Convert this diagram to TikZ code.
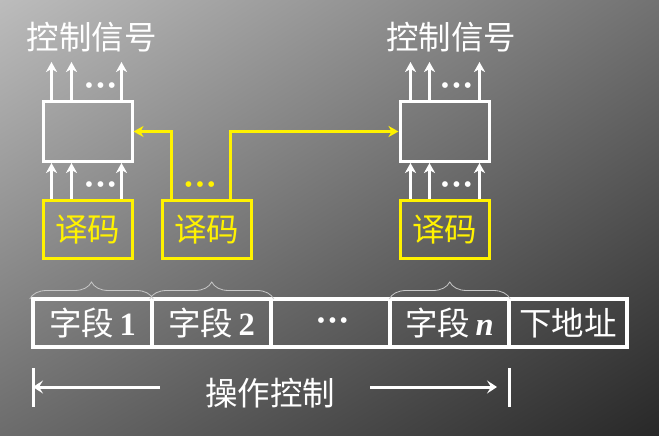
\documentclass[tikz,border=0pt]{standalone}
\usepackage{fontspec}
\setmainfont{Liberation Serif}
\newfontfamily\cjk{Noto Sans CJK SC}
\usetikzlibrary{arrows.meta,decorations.pathreplacing,shadings}
\definecolor{bgTL}{RGB}{188,188,188}
\definecolor{bgTR}{RGB}{114,114,114}
\definecolor{bgBL}{RGB}{108,108,108}
\definecolor{bgBR}{RGB}{40,40,40}
\definecolor{bracegray}{RGB}{200,200,200}
\newcommand{\latnum}[1]{{\rmfamily\bfseries #1}}
\newcommand{\mydots}{•\hspace{3pt}•\hspace{3pt}•}
\begin{document}
\begin{tikzpicture}[x=1pt,y=-1pt,
  cjkfont/.style={font=\cjk\fontsize{32.5}{32.5}\selectfont},
  wbox/.style={draw=white,line width=3pt,minimum width=89pt,minimum height=60pt,inner sep=0pt},
  ybox/.style={draw=yellow,line width=3pt,minimum width=89pt,minimum height=58pt,inner sep=0pt,text=yellow,cjkfont},
  cell/.style={draw=white,line width=3.5pt,minimum width=119pt,minimum height=48pt,inner sep=0pt,text=white,cjkfont},
  title/.style={text=white,cjkfont,inner sep=0pt},
  dots/.style={font=\rmfamily\fontsize{24}{24}\selectfont,inner sep=0pt},
  warrow/.style={draw=white,line width=3pt,-{Stealth[length=10pt,width=11pt,inset=3pt]}},
  yarrow/.style={draw=yellow,line width=3pt,-{Stealth[length=10pt,width=11pt,inset=3pt]}},
  dimarrow/.style={draw=white,line width=3pt,-{Stealth[length=10pt,width=13pt,inset=4pt]}},
  dimbar/.style={draw=white,line width=3pt},
  bracestyle/.style={draw=bracegray,line width=0.8pt,decorate,decoration={brace,amplitude=17pt,aspect=0.5}}
]
\useasboundingbox (0,0) rectangle (659,436);
\shade[upper left=bgTL,upper right=bgTR,lower left=bgBL,lower right=bgBR] (0,0) rectangle (659,436);

% titles
\node[title] (t1) at (92,37) {控制信号};
\node[title] (t2) at (451,37) {控制信号};

% upper boxes
\node[wbox] (b1) at (87.5,131.5) {};
\node[wbox] (b2) at (444.5,131.5) {};

% decoder boxes
\node[ybox] (y1) at (87.5,229.5) {译码};
\node[ybox] (y2) at (206.5,229.5) {译码};
\node[ybox] (y3) at (444.5,229.5) {译码};

% arrows
\foreach \dx in {10,30,80} {
  \draw[warrow] ([xshift=\dx pt]b1.north west) -- ++(0,-38);
  \draw[warrow] ([xshift=\dx pt]y1.north west) -- ([xshift=\dx pt]b1.south west);
}
\foreach \dx in {12,31,81} {
  \draw[warrow] ([xshift=\dx pt]b2.north west) -- ++(0,-38);
  \draw[warrow] ([xshift=\dx pt]y3.north west) -- ([xshift=\dx pt]b2.south west);
}
\node[dots,text=white] (d1) at (100.5,88) {\mydots};
\node[dots,text=white] (d2) at (100.5,187) {\mydots};
\node[dots,text=white] (d3) at (456.5,88) {\mydots};
\node[dots,text=white] (d4) at (456.5,187) {\mydots};
\node[dots,text=yellow] (d5) at (200,187) {\mydots};

% yellow connectors
\draw[yarrow] ([xshift=11pt]y2.north west) |- (b1.east);
\draw[yarrow] ([xshift=70pt]y2.north west) |- (b2.west);

% bottom row
\node[cell] (c1) at (92.5,323) {字段\,\latnum{1}};
\node[cell] (c2) at (211.5,323) {字段\,\latnum{2}};
\node[cell] (c3) at (330.5,323) {};
\node[dots,text=white] (d6) at ([xshift=2pt]c3.center) {\mydots};
\node[cell] (c4) at (449.5,323) {字段\,\latnum{\itshape n}};
\node[cell,minimum width=118pt] (c5) at (568,323) {下地址};

% braces
\draw[bracestyle] ([xshift=-1.5pt,yshift=-1.75pt]c1.north west) -- ([xshift=-0.5pt,yshift=-1.75pt]c1.north east);
\draw[bracestyle] ([xshift=-0.5pt,yshift=-1.75pt]c2.north west) -- ([xshift=1pt,yshift=-1.75pt]c2.north east);
\draw[bracestyle] ([xshift=1pt,yshift=-1.75pt]c4.north west) -- ([xshift=-0.5pt,yshift=-1.75pt]c4.north east);

% dimension
\coordinate (ltop) at (33,368);
\coordinate (lbot) at (33,407);
\coordinate (rtop) at (509,368);
\coordinate (rbot) at (509,407);
\coordinate (lmid) at (33,387);
\coordinate (rtip) at (497,387);
\coordinate (la) at (160,387);
\coordinate (ra) at (370,387);
\draw[dimbar] (ltop) -- (lbot);
\draw[dimbar] (rtop) -- (rbot);
\draw[dimarrow] (la) -- (lmid);
\draw[dimarrow] (ra) -- (rtip);
\node[title] (op) at (270,393) {操作控制};
\end{tikzpicture}
\end{document}
